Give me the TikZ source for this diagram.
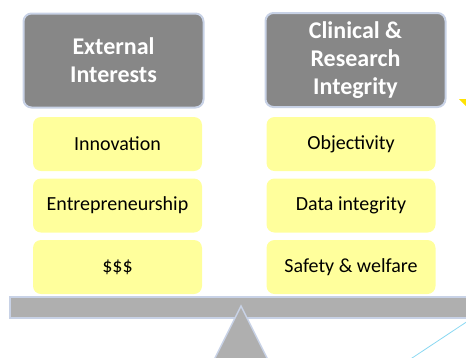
\documentclass[tikz,border=0pt]{standalone}
\usepackage{fontspec}
\setmainfont{Carlito}
\usetikzlibrary{positioning}

\definecolor{headgray}{HTML}{878787}
\definecolor{beamgray}{HTML}{AFAFAF}
\definecolor{edgeblue}{HTML}{C8D2E6}
\definecolor{padyellow}{HTML}{FFFF9C}
\definecolor{tiltcyan}{HTML}{8AD8F2}

\begin{document}
\begin{tikzpicture}[x=1pt,y=-1pt,
	header/.style={draw=edgeblue,line width=2pt,fill=headgray,rounded corners=8pt,
		minimum width=180pt,minimum height=94pt,inner sep=0pt,align=center,
		text=white,font=\fontsize{24}{28}\selectfont\bfseries},
	pad/.style={fill=padyellow,rounded corners=8pt,minimum width=169pt,
		minimum height=54pt,inner sep=0pt,font=\fontsize{20}{24}\selectfont}]
	\useasboundingbox (0,0) rectangle (466,357);
	\clip (0,0) rectangle (466,357);
	
	% the two sides of the balance
	\node[header] (ext) at (113.5,60.5) {External\\Interests};
	\node[header] (integ) at (355.5,60) {Clinical \&\\Research\\Integrity};
	
	\foreach \txt [count=\i] in {Innovation,Entrepreneurship,\$\$\$}{
		\node[pad] (ext\i) at (117.5,{144+61.5*(\i-1)}) {\txt};
	}
	\foreach \txt [count=\i] in {Objectivity,Data integrity,Safety \& welfare}{
		\node[pad] (integ\i) at (351,{144+61.5*(\i-1)}) {\txt};
	}
	
	% beam and fulcrum
	\draw[edgeblue,line width=1.5pt,fill=beamgray] (10,297) rectangle (480,318);
	\draw[edgeblue,line width=1.5pt,fill=beamgray] (241,306) -- (186,416) -- (296,416) -- cycle;
	
	\draw[tiltcyan,line width=0.8pt] (480,313) -- (400,366);
	\fill[yellow!85!orange] (459,99) -- (466,99) -- (466,106) -- cycle;
\end{tikzpicture}
\end{document}
